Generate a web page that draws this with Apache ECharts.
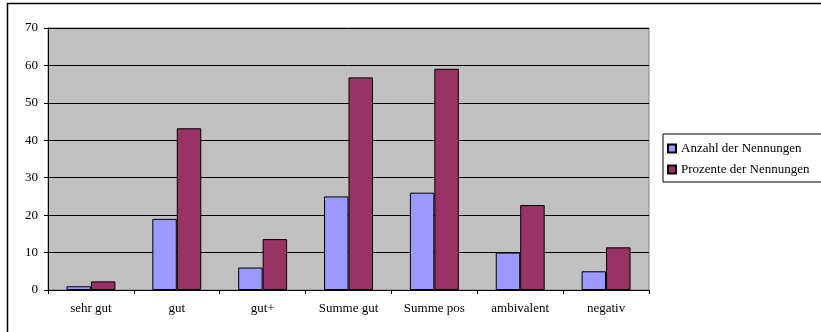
<!DOCTYPE html>
<html>
<head>
<meta charset="utf-8">
<script src="https://cdn.jsdelivr.net/npm/echarts@6/dist/echarts.min.js"></script>
<style>
html,body{margin:0;padding:0;background:#fff;}
#c{width:821px;height:332px;}
</style>
</head>
<body>
<div id="c"></div>
<script>
var categories = ['sehr gut', 'gut', 'gut+', 'Summe gut', 'Summe pos', 'ambivalent', 'negativ'];
var anzahl = [1, 19, 6, 25, 26, 10, 5];
var prozente = [2.3, 43.2, 13.6, 56.8, 59.1, 22.7, 11.4];
var yTicks = [0, 10, 20, 30, 40, 50, 60, 70];

var FONT = '"Liberation Serif", "Times New Roman", serif';
var chart = echarts.init(document.getElementById('c'), null, {renderer: 'canvas'});
chart.setOption({
  animation: false,
  backgroundColor: '#fff',
  textStyle: {fontFamily: FONT},
  graphic: [{
    type: 'rect', z: 100, silent: true,
    shape: {x: 7.5, y: 3.5, width: 900, height: 400},
    style: {fill: 'none', stroke: '#000', lineWidth: 1.5}
  }],
  grid: {
    left: 48, top: 28, right: 172, bottom: 42,
    show: true, backgroundColor: '#C0C0C0', borderColor: '#808080', borderWidth: 1
  },
  legend: {
    orient: 'vertical', left: 663, top: 134,
    padding: [8, 60, 6, 4], itemGap: 8,
    itemWidth: 8, itemHeight: 8, icon: 'rect',
    borderColor: '#000', borderWidth: 1, backgroundColor: '#fff',
    textStyle: {fontFamily: FONT, fontSize: 13, color: '#000'},
    data: ['Anzahl der Nennungen', 'Prozente der Nennungen']
  },
  xAxis: {
    type: 'category', data: categories,
    axisLine: {lineStyle: {color: '#000', width: 1}},
    axisTick: {show: true, length: 4, lineStyle: {color: '#000'}},
    axisLabel: {margin: 12, fontFamily: FONT, fontSize: 13, color: '#000', interval: 0}
  },
  yAxis: {
    type: 'value', min: yTicks[0], max: yTicks[yTicks.length - 1], interval: 10,
    axisLine: {show: true, lineStyle: {color: '#000', width: 1}},
    axisTick: {show: true, length: 4, lineStyle: {color: '#000'}},
    axisLabel: {margin: 10, fontFamily: FONT, fontSize: 13, color: '#000'},
    splitLine: {show: true, lineStyle: {color: '#000', width: 1}}
  },
  series: [{
    name: 'Anzahl der Nennungen', type: 'bar', data: anzahl,
    barGap: '0%', barCategoryGap: '43%',
    itemStyle: {color: '#9999FF', borderColor: '#000', borderWidth: 1}
  }, {
    name: 'Prozente der Nennungen', type: 'bar', data: prozente,
    barGap: '0%', barCategoryGap: '43%',
    itemStyle: {color: '#993366', borderColor: '#000', borderWidth: 1}
  }]
});
</script>
</body>
</html>
